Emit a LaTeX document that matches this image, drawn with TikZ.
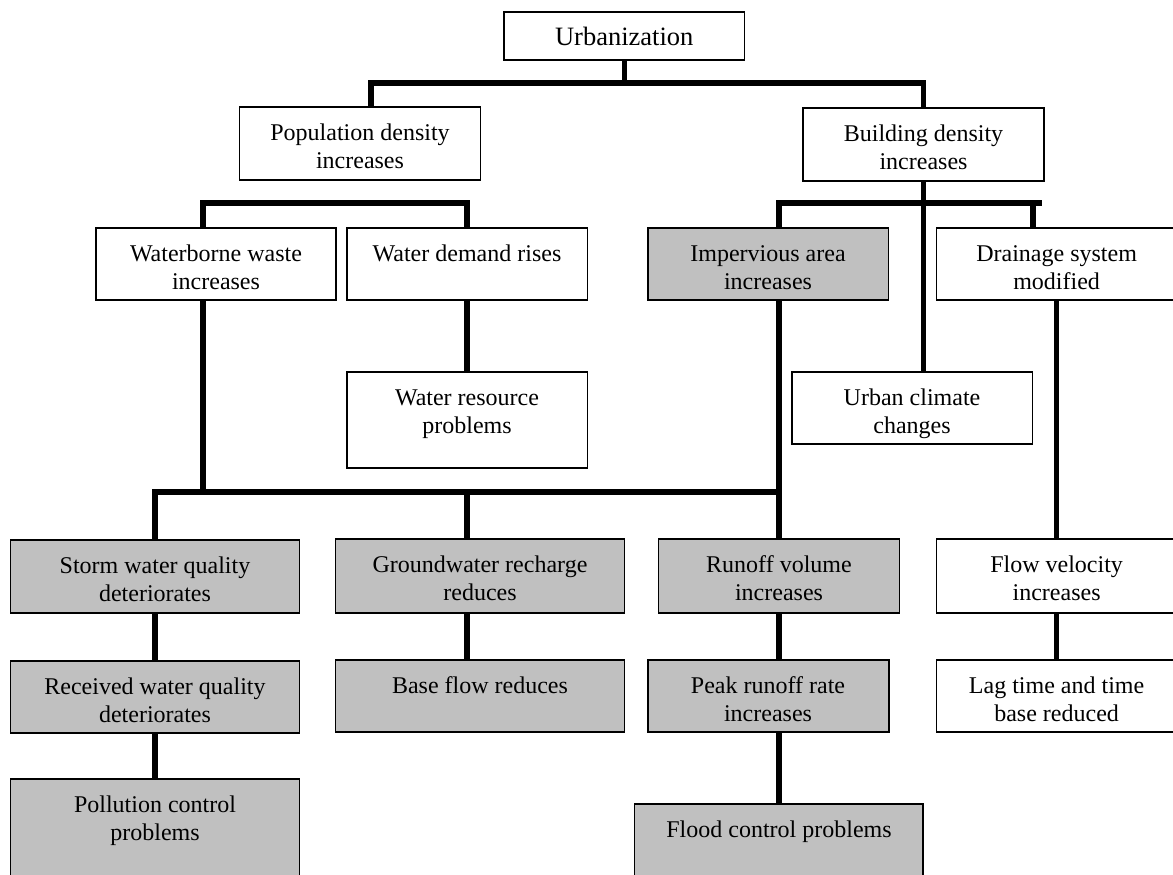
\documentclass[tikz,border=0pt]{standalone}
\usepackage{fontspec}
\setmainfont{Liberation Serif}
\definecolor{boxgray}{RGB}{192,192,192}
\tikzset{
  plainbox/.style={draw=black, line width=1.3pt, fill=white, inner sep=0pt, outer sep=0pt},
  graybox/.style={plainbox, fill=boxgray},
  txt/.style={inner sep=0pt, outer sep=0pt, align=center, font=\fontsize{24}{27.5}\selectfont},
  conn/.style={line width=5.5pt, line join=miter, line cap=butt}
}
\newcommand{\mkbox}[8]{%
  \node[#2, anchor=north west, minimum width={#5-#3}, minimum height={#6-#4}] (#1) at (#3,#4) {};
  \node[txt, anchor=north] (#1-t) at (#7,#4+14.25) {\strut #8};}
\begin{document}
\begin{tikzpicture}[x=1pt,y=-1pt]
\useasboundingbox (0,0) rectangle (1173,875);
\clip (0,0) rectangle (1173,875);
\fill[white] (0,0) rectangle (1173,875);

% junction coordinates
\coordinate (jA) at (371,83);
\coordinate (jB) at (923.5,83);
\coordinate (jC) at (203,203);
\coordinate (jD) at (467,203);
\coordinate (jE) at (779,203);
\coordinate (jF) at (1042,203);
\coordinate (jG) at (1033,203);
\coordinate (jH) at (923.5,203);
\coordinate (jI) at (155,492);
\coordinate (jJ) at (779,492);
\coordinate (jK) at (203,492);
\coordinate (jL) at (467,492);
\coordinate (jM) at (1056.6,300);

% boxes
\node[plainbox, anchor=north west, minimum width=240.5, minimum height=48] (urb) at (504,12) {};
\node[inner sep=0pt, outer sep=0pt, anchor=base, font=\fontsize{26.5}{30}\selectfont] (urb-t) at (624.25,46) {Urbanization};

\mkbox{pop}{plainbox}{239.5}{107}{480.2}{180}{360}{Population density\\increases}
\mkbox{bld}{plainbox}{803}{108}{1044}{181}{923.5}{Building density\\increases}
\mkbox{wbw}{plainbox}{96}{228}{336}{300}{216}{Waterborne waste\\increases}
\mkbox{wdr}{plainbox}{347}{228}{587.4}{300}{467}{Water demand rises}
\mkbox{imp}{graybox}{648}{228}{888.2}{300}{768}{Impervious area\\increases}
\mkbox{drn}{plainbox}{936.3}{228}{1178}{300}{1056.6}{Drainage system\\modified}
\mkbox{wrp}{plainbox}{347}{372}{587.4}{468}{467}{Water resource\\problems}
\mkbox{ucc}{plainbox}{792}{372}{1032.7}{444}{912}{Urban climate\\changes}
\mkbox{swq}{graybox}{10.3}{540}{299.2}{613}{155}{Storm water quality\\deteriorates}
\mkbox{gwr}{graybox}{335.6}{539}{624.6}{613}{480}{Groundwater recharge\\reduces}
\mkbox{run}{graybox}{658.7}{539}{899.6}{613}{779}{Runoff volume\\increases}
\mkbox{flv}{plainbox}{936.3}{539}{1178}{613}{1056.6}{Flow velocity\\increases}
\mkbox{rwq}{graybox}{10.3}{661}{299.2}{733}{155}{Received water quality\\deteriorates}
\mkbox{bfr}{graybox}{335.6}{660}{624.6}{732}{480}{Base flow reduces}
\mkbox{prr}{graybox}{648}{660}{889}{732}{768}{Peak runoff rate\\increases}
\mkbox{lag}{plainbox}{936.3}{660}{1178}{732}{1056.6}{Lag time and time\\base reduced}
\mkbox{pcp}{graybox}{10.3}{779}{299.2}{900}{155}{Pollution control\\problems}
\mkbox{fcp}{graybox}{634.8}{804}{923}{900}{779}{Flood control problems}

% connectors
\draw[conn] (urb.south) -- (urb.south |- jA);
\draw[conn] (pop.north -| jA) -- (jA) -- (jB) -- (bld.north -| jB);
\draw[conn] (pop.south -| jA) -- (pop.south -| jA |- jC);
\draw[conn] (wbw.north -| jC) -- (jC) -- (jD) -- (wdr.north -| jD);
\draw[conn] (bld.south -| jH) -- (jH);
\draw[conn] (imp.north -| jE) -- (jE) -- (jF);
\draw[conn] (jH) -- (ucc.north -| jH);
\draw[conn] (jG) -- (drn.north -| jG);
\draw[conn] (wdr.south -| jD) -- (wrp.north -| jD);
\draw[conn] (wbw.south -| jC) -- (jK);
\draw[conn] (swq.north -| jI) -- (jI) -- (jJ);
\draw[conn] (jL) -- (gwr.north -| jL);
\draw[conn] (imp.south -| jE) -- (run.north -| jE);
\draw[conn] (drn.south -| jM) -- (flv.north -| jM);
\draw[conn] (swq.south -| jI) -- (rwq.north -| jI);
\draw[conn] (rwq.south -| jI) -- (pcp.north -| jI);
\draw[conn] (gwr.south -| jL) -- (bfr.north -| jL);
\draw[conn] (run.south -| jJ) -- (prr.north -| jJ);
\draw[conn] (prr.south -| jJ) -- (fcp.north -| jJ);
\draw[conn] (flv.south -| jM) -- (lag.north -| jM);
\end{tikzpicture}
\end{document}
